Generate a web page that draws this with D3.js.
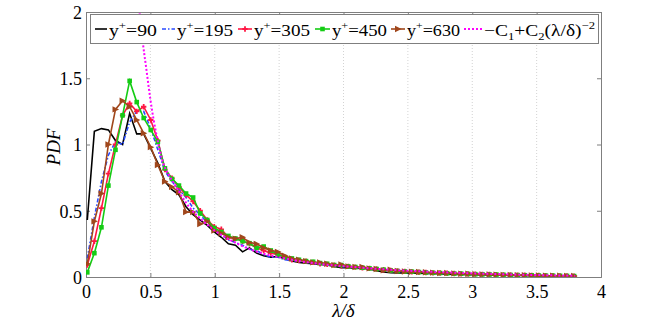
<!DOCTYPE html>
<html>
<head>
<meta charset="utf-8">
<script src="https://cdn.jsdelivr.net/npm/d3@7"></script>
<style>
  body { margin: 0; background: #fff; }
  svg, svg text { font-family: 'Liberation Serif', 'Times New Roman', Times, 'DejaVu Serif', serif; }
</style>
</head>
<body>
<svg id="chart" width="664" height="326"></svg>
<script>
// bin centres of lambda/delta
const lambda = [0.01, 0.065, 0.12, 0.174, 0.229, 0.284, 0.339, 0.394, 0.448, 0.503,
  0.558, 0.613, 0.668, 0.722, 0.777, 0.832, 0.887, 0.942, 0.996, 1.051,
  1.106, 1.161, 1.216, 1.27, 1.325, 1.38, 1.435, 1.49, 1.544, 1.599,
  1.654, 1.709, 1.764, 1.818, 1.873, 1.928, 1.983, 2.038, 2.092, 2.147,
  2.202, 2.257, 2.312, 2.366, 2.421, 2.476, 2.531, 2.586, 2.64, 2.695,
  2.75, 2.805, 2.86, 2.914, 2.969, 3.024, 3.079, 3.134, 3.188, 3.243,
  3.298, 3.353, 3.408, 3.462, 3.517, 3.572, 3.627, 3.682, 3.736, 3.791];

const pdf90 = [0.43, 1.10, 1.12, 1.11, 1.03, 1.00, 1.235, 1.08, 1.08, 0.97,
  0.86, 0.72, 0.66, 0.62, 0.53, 0.47, 0.43, 0.39, 0.34,
  0.30, 0.25, 0.24, 0.19, 0.22, 0.18, 0.16, 0.15, 0.155, 0.14, 0.12, 0.11, 0.105,
  0.10, 0.095, 0.09, 0.08, 0.07, 0.07, 0.066, 0.065, 0.06, 0.048, 0.038, 0.032,
  0.03, 0.032, 0.03, 0.028, 0.026, 0.025, 0.024, 0.022, 0.02, 0.02, 0.018, 0.017,
  0.016, 0.015, 0.014, 0.013, 0.012, 0.011, 0.011, 0.01, 0.009, 0.008, 0.008,
  0.007, 0.006, 0.005];

const pdf195 = [0.14, 0.45, 0.72, 0.92, 1.02, 1.00, 1.17, 1.25, 1.25, 1.12,
  0.96, 0.80, 0.72, 0.66, 0.60, 0.52, 0.47, 0.41, 0.36,
  0.32, 0.28, 0.26, 0.24, 0.21, 0.20, 0.17, 0.15, 0.15, 0.13, 0.125, 0.12, 0.11,
  0.105, 0.10, 0.09, 0.085, 0.08, 0.075, 0.07, 0.068, 0.062, 0.057, 0.05, 0.046,
  0.043, 0.04, 0.038, 0.035, 0.033, 0.03, 0.028, 0.027, 0.025, 0.024, 0.022, 0.021,
  0.019, 0.018, 0.017, 0.016, 0.015, 0.014, 0.013, 0.012, 0.011, 0.01, 0.009,
  0.008, 0.008, 0.007];

const pdf305 = [0.09, 0.27, 0.52, 0.78, 1.00, 1.22, 1.31, 1.25, 1.285, 1.185,
  1.03, 0.81, 0.745, 0.68, 0.62, 0.57, 0.50, 0.43, 0.38,
  0.36, 0.30, 0.29, 0.27, 0.25, 0.22, 0.20, 0.18, 0.17, 0.15, 0.13, 0.125, 0.12,
  0.11, 0.10, 0.095, 0.09, 0.085, 0.08, 0.075, 0.07, 0.065, 0.06, 0.055, 0.05,
  0.046, 0.042, 0.04, 0.036, 0.034, 0.031, 0.03, 0.028, 0.026, 0.024, 0.023, 0.022,
  0.02, 0.019, 0.017, 0.016, 0.015, 0.014, 0.013, 0.012, 0.011, 0.01, 0.009,
  0.008, 0.008, 0.007];

const pdf450 = [0.035, 0.18, 0.375, 0.69, 0.96, 1.22, 1.48, 1.32, 1.20, 1.11,
  1.02, 0.82, 0.74, 0.69, 0.63, 0.60, 0.48, 0.43, 0.37,
  0.34, 0.31, 0.29, 0.27, 0.255, 0.22, 0.23, 0.20, 0.17, 0.15, 0.14, 0.13, 0.12,
  0.115, 0.105, 0.10, 0.09, 0.09, 0.08, 0.075, 0.07, 0.065, 0.06, 0.055, 0.05,
  0.045, 0.042, 0.04, 0.037, 0.034, 0.032, 0.03, 0.028, 0.026, 0.025, 0.023, 0.021,
  0.02, 0.019, 0.018, 0.016, 0.015, 0.014, 0.013, 0.012, 0.011, 0.01, 0.01,
  0.009, 0.008, 0.007];

const pdf630 = [0.10, 0.42, 0.63, 1.00, 1.265, 1.33, 1.285, 1.185, 1.085, 0.98,
  0.845, 0.72, 0.68, 0.64, 0.49, 0.49, 0.40, 0.42, 0.35,
  0.33, 0.30, 0.29, 0.30, 0.26, 0.25, 0.22, 0.20, 0.19, 0.16, 0.14, 0.13, 0.12,
  0.11, 0.11, 0.10, 0.09, 0.095, 0.08, 0.075, 0.075, 0.065, 0.06, 0.05, 0.055,
  0.045, 0.042, 0.04, 0.038, 0.036, 0.033, 0.03, 0.03, 0.027, 0.025, 0.024, 0.022,
  0.02, 0.02, 0.018, 0.016, 0.015, 0.014, 0.013, 0.012, 0.012, 0.01, 0.01,
  0.009, 0.008, 0.007];

// fitted curve
const fitX = [0.41, 0.44, 0.47, 0.5, 0.55, 0.6, 0.65, 0.7, 0.75, 0.8, 0.9, 1.0, 1.1, 1.2,
  1.3, 1.4, 1.5, 1.6, 1.8, 2.0, 2.2, 2.4, 2.6, 2.8, 3.0, 3.2, 3.4, 3.6, 3.8];
const fitY = [2.05, 1.78, 1.56, 1.34, 1.06, 0.86, 0.76, 0.68, 0.6, 0.53, 0.43, 0.35, 0.29, 0.24,
  0.2, 0.17, 0.15, 0.13, 0.1, 0.082, 0.066, 0.053, 0.043, 0.035, 0.028, 0.022, 0.017, 0.013, 0.01];

const xTicks = [0, 0.5, 1, 1.5, 2, 2.5, 3, 3.5, 4];
const yTicks = [0, 0.5, 1, 1.5, 2];

const serif = "'Liberation Serif', 'Times New Roman', Times, 'DejaVu Serif', serif";

const svg = d3.select('#chart');
const m = { left: 86, right: 601, top: 12, bottom: 277 };

const x = d3.scaleLinear().domain([0, 4]).range([m.left, m.right]);
const y = d3.scaleLinear().domain([0, 2]).range([m.bottom, m.top]);

const axisColor = '#7f7f7f';

// grid (vertical dotted only)
svg.append('g')
  .selectAll('line')
  .data(xTicks.slice(1, -1))
  .join('line')
  .attr('x1', d => x(d)).attr('x2', d => x(d))
  .attr('y1', m.top).attr('y2', m.bottom)
  .attr('stroke', '#c8c8c8')
  .attr('stroke-width', 0.8)
  .attr('stroke-dasharray', '1,2');

// axes
const xAxis = svg.append('g')
  .attr('transform', `translate(0,${m.bottom})`)
  .call(d3.axisBottom(x).tickValues(xTicks).tickSize(-4).tickPadding(8).tickFormat(d3.format('')));
const xTop = svg.append('g')
  .attr('transform', `translate(0,${m.top})`)
  .call(d3.axisTop(x).tickValues(xTicks).tickSize(-4).tickFormat(''));
const yAxis = svg.append('g')
  .attr('transform', `translate(${m.left},0)`)
  .call(d3.axisLeft(y).tickValues(yTicks).tickSize(-4).tickPadding(4).tickFormat(d3.format('')));
const yRight = svg.append('g')
  .attr('transform', `translate(${m.right},0)`)
  .call(d3.axisRight(y).tickValues(yTicks).tickSize(-4).tickFormat(''));

[xAxis, xTop, yAxis, yRight].forEach(g => {
  g.attr('font-family', null).attr('font-size', null);
  g.select('.domain').attr('stroke', axisColor).attr('stroke-width', 1);
  g.selectAll('.tick line').attr('stroke', axisColor);
  g.selectAll('text')
    .style('font-family', serif)
    .style('font-size', '18px')
    .attr('fill', '#000');
});
yAxis.selectAll('text').attr('dy', '0.35em');

// axis titles
svg.append('text')
  .attr('x', (m.left + m.right) / 2)
  .attr('y', 317)
  .attr('text-anchor', 'middle')
  .style('font-family', serif)
  .style('font-size', '19px')
  .style('font-style', 'italic')
  .text('λ/δ');

svg.append('text')
  .attr('transform', `translate(60,147) rotate(-90)`)
  .attr('text-anchor', 'middle')
  .style('font-family', serif)
  .style('font-size', '19px')
  .style('font-style', 'italic')
  .text('PDF');

// curves
svg.append('clipPath').attr('id', 'plotClip')
  .append('rect')
  .attr('x', m.left).attr('y', m.top)
  .attr('width', m.right - m.left).attr('height', m.bottom - m.top);

const plot = svg.append('g').attr('clip-path', 'url(#plotClip)');

const line = d3.line().x(d => x(d[0])).y(d => y(d[1]));

const triRight = 'M-3,-3.2L3.6,0L-3,3.2Z';

const series = [
  { name: '90', values: pdf90, color: '#000000', dash: null, marker: null },
  { name: '195', values: pdf195, color: '#2a4bff', dash: '4,2,1.5,2', marker: null },
  { name: '305', values: pdf305, color: '#ff1744', dash: null, marker: 'cross' },
  { name: '450', values: pdf450, color: '#14cc14', dash: null, marker: 'square' },
  { name: '630', values: pdf630, color: '#a0471c', dash: null, marker: 'tri' }
];

function drawMarker(sel, type, color) {
  if (type === 'square') {
    sel.append('rect')
      .attr('x', -2.3).attr('y', -2.3).attr('width', 4.6).attr('height', 4.6)
      .attr('fill', color);
  } else if (type === 'cross') {
    sel.append('path')
      .attr('d', d3.symbol(d3.symbolCross, 16)())
      .attr('fill', color);
  } else if (type === 'tri') {
    sel.append('path')
      .attr('d', triRight)
      .attr('fill', color);
  }
}

series.forEach(s => {
  const pts = lambda.map((lx, i) => [lx, s.values[i]]);
  plot.append('path')
    .datum(pts)
    .attr('fill', 'none')
    .attr('stroke', s.color)
    .attr('stroke-width', 1.6)
    .attr('stroke-dasharray', s.dash)
    .attr('d', line);
  if (s.marker) {
    plot.append('g')
      .selectAll('g')
      .data(pts)
      .join('g')
      .attr('transform', d => `translate(${x(d[0])},${y(d[1])})`)
      .each(function () { drawMarker(d3.select(this), s.marker, s.color); });
  }
});

plot.append('path')
  .datum(fitX.map((fx, i) => [fx, fitY[i]]))
  .attr('fill', 'none')
  .attr('stroke', '#ff00ff')
  .attr('stroke-width', 2)
  .attr('stroke-dasharray', '2,2')
  .attr('d', d3.line().curve(d3.curveMonotoneX).x(d => x(d[0])).y(d => y(d[1])));

// legend
const legend = svg.append('g');
legend.append('rect')
  .attr('x', 90.5).attr('y', 14.5)
  .attr('width', 508).attr('height', 29)
  .attr('fill', '#fff')
  .attr('stroke', axisColor)
  .attr('stroke-width', 1);

const legendItems = [
  { s: series[0], x0: 95, x1: 107, tx: 109, tw: 48 },
  { s: series[1], x0: 162, x1: 175, tx: 177, tw: 56 },
  { s: series[2], x0: 238, x1: 252, tx: 254, tw: 56 },
  { s: series[3], x0: 315, x1: 330, tx: 332, tw: 55 },
  { s: series[4], x0: 391, x1: 405, tx: 407, tw: 53 }
];
const ly = 29;

legendItems.forEach(it => {
  legend.append('line')
    .attr('x1', it.x0).attr('x2', it.x1)
    .attr('y1', ly).attr('y2', ly)
    .attr('stroke', it.s.color)
    .attr('stroke-width', 1.6)
    .attr('stroke-dasharray', it.s.dash);
  if (it.s.marker) {
    const g = legend.append('g').attr('transform', `translate(${(it.x0 + it.x1) / 2},${ly})`);
    drawMarker(g, it.s.marker, it.s.color);
  }
  const t = legend.append('text')
    .attr('x', it.tx).attr('y', 36)
    .style('font-family', serif)
    .style('font-size', '17px')
    .attr('textLength', it.tw)
    .attr('lengthAdjust', 'spacingAndGlyphs');
  t.append('tspan').text('y');
  t.append('tspan').attr('dy', -7).style('font-size', '11px').text('+');
  t.append('tspan').attr('dy', 7).text('=' + it.s.name);
});

legend.append('line')
  .attr('x1', 464).attr('x2', 482)
  .attr('y1', ly).attr('y2', ly)
  .attr('stroke', '#ff00ff')
  .attr('stroke-width', 2)
  .attr('stroke-dasharray', '2,2');

const ft = legend.append('text')
  .attr('x', 484).attr('y', 36)
  .style('font-family', serif)
  .style('font-size', '17px')
  .attr('textLength', 111)
  .attr('lengthAdjust', 'spacingAndGlyphs');
ft.append('tspan').text('−C');
ft.append('tspan').attr('dy', 4).style('font-size', '11px').text('1');
ft.append('tspan').attr('dy', -4).text('+C');
ft.append('tspan').attr('dy', 4).style('font-size', '11px').text('2');
ft.append('tspan').attr('dy', -4).text('(λ/δ)');
ft.append('tspan').attr('dy', -7).style('font-size', '11px').text('−2');
</script>
</body>
</html>
